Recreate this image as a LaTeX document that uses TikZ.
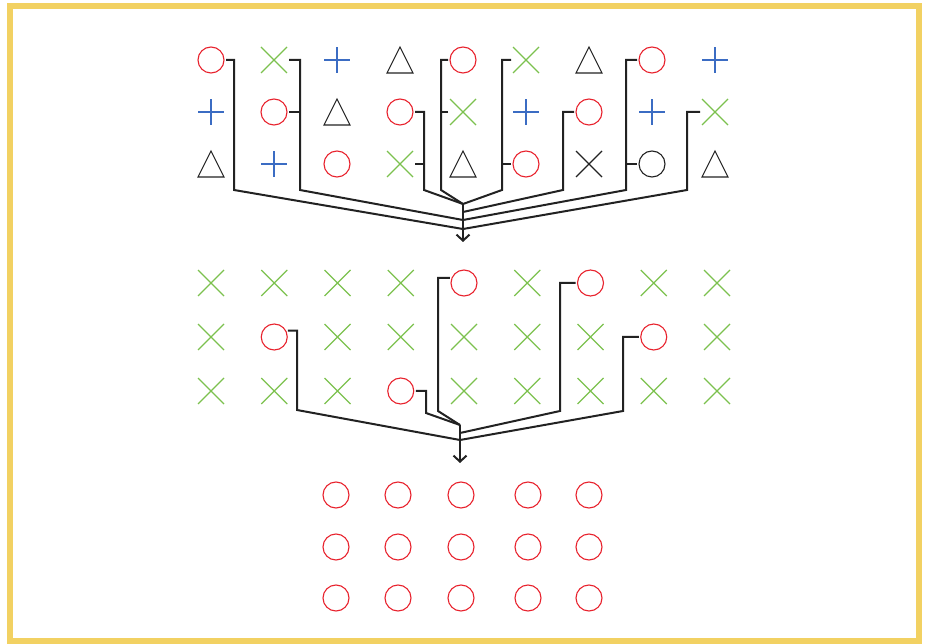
\documentclass[tikz,border=0pt]{standalone}
\usepackage{tikz}
\usetikzlibrary{arrows.meta}
\definecolor{ored}{HTML}{E8232E}
\definecolor{xgreen}{HTML}{7CC14E}
\definecolor{pblue}{HTML}{3B6CC3}
\definecolor{ink}{HTML}{222222}
\definecolor{framey}{HTML}{F2D162}
\tikzset{
  symline/.style = {line width = 1.1pt},
  sym/.style = {inner sep = 0, outer sep = 0, minimum size = 30pt},
  ring/.style = {circle, draw = ored, symline, inner sep = 0, outer sep = 2pt, minimum size = 26pt},
  kring/.style = {ring, draw = ink},
  xcross/.style = {sym, path picture = {\draw [xgreen, symline]
      ([shift={(-13pt,-13pt)}]path picture bounding box.center) -- ([shift={(13pt,13pt)}]path picture bounding box.center)
      ([shift={(-13pt,13pt)}]path picture bounding box.center) -- ([shift={(13pt,-13pt)}]path picture bounding box.center);}},
  kcross/.style = {sym, path picture = {\draw [ink, symline]
      ([shift={(-13pt,-13pt)}]path picture bounding box.center) -- ([shift={(13pt,13pt)}]path picture bounding box.center)
      ([shift={(-13pt,13pt)}]path picture bounding box.center) -- ([shift={(13pt,-13pt)}]path picture bounding box.center);}},
  pcross/.style = {sym, path picture = {\draw [pblue, symline]
      ([shift={(-13pt,0pt)}]path picture bounding box.center) -- ([shift={(13pt,0pt)}]path picture bounding box.center)
      ([shift={(0pt,-13pt)}]path picture bounding box.center) -- ([shift={(0pt,13pt)}]path picture bounding box.center);}},
  tri/.style = {sym, path picture = {\draw [ink, symline]
      ([shift={(-13pt,-13pt)}]path picture bounding box.center) -- ([shift={(0pt,13pt)}]path picture bounding box.center)
      -- ([shift={(13pt,-13pt)}]path picture bounding box.center) -- cycle;}},
  wire/.style = {ink, line width = 2pt},
  feed/.style = {wire, -{Straight Barb[length = 6pt, width = 13pt]}}
}

\begin{document}
\begin{tikzpicture}[x = 1pt, y = -1pt]
    \useasboundingbox (0, 0) rectangle (927, 644);
    \draw [line width = 6pt, framey] (10, 6) rectangle (919, 641);

    % first grid
    \foreach \st [count = \c from 0] in {ring, xcross, pcross, tri, ring, xcross, tri, ring, pcross}
      \node [\st] (a1-\c) at (211 + 63 * \c, 60) {};
    \foreach \st [count = \c from 0] in {pcross, ring, tri, ring, xcross, pcross, ring, pcross, xcross}
      \node [\st] (a2-\c) at (211 + 63 * \c, 112) {};
    \foreach \st [count = \c from 0] in {tri, pcross, ring, xcross, tri, ring, kcross, kring, tri}
      \node [\st] (a3-\c) at (211 + 63 * \c, 164) {};

    \coordinate (m1) at (463, 204);
    \coordinate (m2) at (463, 212);
    \coordinate (m3) at (463, 220);
    \coordinate (m4) at (463, 229);
    \coordinate (o1) at (463, 242);

    \draw [wire] (a1-0.east) -| (234, 190) -- (m4);
    \draw [wire] (a1-1.east) -| (300, 190) -- (m3);
    \draw [wire] (a2-1.east) -- (300, 112);
    \draw [wire] (a2-3.east) -| (424, 190) -- (m1);
    \draw [wire] (a3-3.east) -- (424, 164);
    \draw [wire] (a1-4.west) -| (441, 190) -- (m1);
    \draw [wire] (a2-4.west) -- (441, 112);
    \draw [wire] (a1-5.west) -| (502, 190) -- (m1);
    \draw [wire] (a3-5.west) -- (502, 164);
    \draw [wire] (a2-6.west) -| (563, 190) -- (m2);
    \draw [wire] (a1-7.west) -| (626, 190) -- (m3);
    \draw [wire] (a3-7.west) -- (626, 164);
    \draw [wire] (a2-8.west) -| (687, 190) -- (m4);
    \draw [feed] (m1) -- (o1);

    % second grid
    \foreach \st [count = \c from 0] in {xcross, xcross, xcross, xcross, ring, xcross, ring, xcross, xcross}
      \node [\st] (b1-\c) at (211 + 63.25 * \c, 283) {};
    \foreach \st [count = \c from 0] in {xcross, ring, xcross, xcross, xcross, xcross, xcross, ring, xcross}
      \node [\st] (b2-\c) at (211 + 63.25 * \c, 337) {};
    \foreach \st [count = \c from 0] in {xcross, xcross, xcross, ring, xcross, xcross, xcross, xcross, xcross}
      \node [\st] (b3-\c) at (211 + 63.25 * \c, 391) {};

    \coordinate (n1) at (460, 425);
    \coordinate (n2) at (460, 433);
    \coordinate (n3) at (460, 440);
    \coordinate (o2) at (460, 463);

    \draw [wire] (b2-1.25) -| (297, 410) -- (n3);
    \draw [wire] (b3-3.east) -| (426, 413) -- (n1);
    \draw [wire] (b1-4.160) -| (438, 411) -- (n1);
    \draw [wire] (b1-6.west) -| (560, 411) -- (n2);
    \draw [wire] (b2-7.west) -| (623, 411) -- (n3);
    \draw [feed] (n1) -- (o2);

    % result
    \foreach \r/\y in {1/495, 2/547, 3/598}
      \foreach \x [count = \c from 0] in {336, 398, 461, 528, 589}
        \node [ring] (c\r-\c) at (\x, \y) {};
\end{tikzpicture}
\end{document}
